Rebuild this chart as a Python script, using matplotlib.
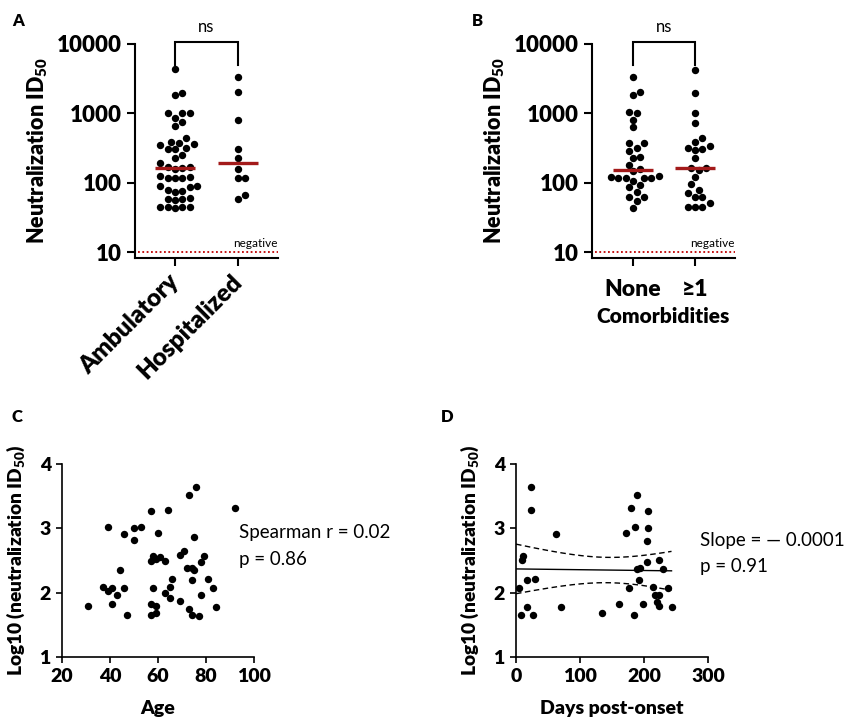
import numpy as np
import matplotlib
matplotlib.use('Agg')
import matplotlib.pyplot as plt

plt.rcParams['font.family'] = ['Lato', 'DejaVu Sans']
plt.rcParams['mathtext.fontset'] = 'custom'
plt.rcParams['mathtext.rm'] = 'Lato'
plt.rcParams['mathtext.bf'] = 'Lato:heavy'

BW = 'heavy'

# ---------------- data ----------------
ambulatory = [4365, 1995, 1820, 1023, 1023, 1000, 851, 759, 646, 447, 380, 372, 363, 347,
              316, 309, 302, 251, 229, 195, 170, 166, 162, 158, 123, 120, 117, 117, 115,
              91, 89, 87, 78, 76, 74, 60, 59, 58, 56, 45, 45, 44, 44, 43]
hospitalized = [3311, 2042, 813, 309, 229, 158, 117, 117, 59, 66]
none_comorb = [3311, 2042, 1862, 1047, 1000, 813, 631, 372, 372, 316, 282, 234, 224, 182,
               158, 145, 115, 115, 115, 115, 120, 126, 107, 93, 87, 74, 63, 63, 54, 43]
ge1_comorb = [4266, 1950, 1023, 724, 437, 380, 339, 316, 302, 295, 224, 162, 162, 151,
              120, 95, 78, 71, 62, 63, 44, 45, 51, 44]
groups_a = ['Ambulatory', 'Hospitalized']
groups_b = ['None', '≥1']

age = [31, 37, 39, 39, 41, 41, 43, 44, 46, 46, 47, 50, 50, 53, 57, 57, 57, 57, 58, 58,
       59, 59, 59, 60, 61, 63, 63, 64, 65, 65, 66, 69, 69, 71, 72, 73, 73, 74, 74, 74,
       75, 75, 76, 77, 78, 78, 79, 81, 83, 84, 92]
age_log = [1.80, 2.09, 3.02, 2.02, 2.07, 1.83, 1.96, 2.36, 2.91, 2.08, 1.65, 3.00, 2.82,
           3.02, 3.27, 2.50, 1.83, 1.66, 2.57, 2.07, 1.79, 1.69, 2.52, 2.93, 2.55, 2.50,
           2.00, 3.29, 2.09, 1.91, 2.21, 1.87, 2.58, 2.65, 2.39, 3.52, 1.74, 2.38, 2.20,
           1.65, 2.35, 2.87, 3.64, 1.64, 2.47, 1.96, 2.57, 2.21, 2.07, 1.77, 3.31]

days = [4, 8, 9, 11, 17, 17, 23, 23, 27, 30, 63, 70, 134, 161, 172, 177, 179, 184, 186,
        189, 189, 192, 193, 199, 205, 207, 207, 205, 214, 217, 220, 223, 223, 224, 230,
        237, 243]
days_log = [2.07, 1.65, 2.51, 2.57, 2.20, 1.77, 3.64, 3.29, 1.65, 2.21, 2.91, 1.78, 1.69,
            1.82, 2.93, 2.07, 3.31, 1.66, 3.02, 3.52, 2.37, 2.19, 2.39, 1.83, 2.47, 3.27,
            3.00, 2.81, 2.09, 1.97, 1.85, 2.51, 1.97, 1.80, 2.37, 2.07, 1.78]

W, H = 849, 720
fig = plt.figure(figsize=(W / 100, H / 100), dpi=100)

def px_axes(l, r, t, b):
    return fig.add_axes([l / W, 1 - b / H, (r - l) / W, (b - t) / H])

RED = '#a31a1a'
DOT_PX = 7.4
DOT_PT = DOT_PX * 72 / 100


def beeswarm(ax, pos, vals):
    fig.canvas.draw()
    vals = np.sort(np.asarray(vals, float))
    ypx = ax.transData.transform(np.column_stack([np.zeros_like(vals), vals]))[:, 1]
    x0 = ax.transData.transform((0, 1))[0]
    x1 = ax.transData.transform((1, 1))[0]
    ppu = x1 - x0
    placed = []
    offs = []
    cands = [0]
    for k in range(1, 12):
        cands += [k * 0.5 * DOT_PX, -k * 0.5 * DOT_PX]
    for y in ypx:
        for c in cands:
            ok = all((c - px) ** 2 + (y - py) ** 2 >= (DOT_PX * 0.97) ** 2 for px, py in placed)
            if ok:
                placed.append((c, y))
                offs.append(c)
                break
    xs = pos + np.array(offs) / ppu
    ax.scatter(xs, vals, s=DOT_PT ** 2, color='black', linewidths=0, zorder=3, clip_on=False)


def cat_panel(ax, g1, g2, names, xlim):
    ax.set_yscale('log')
    ax.set_ylim(8.2, 10000)
    ax.set_xlim(*xlim)
    ax.set_xticks([0, 1])
    ax.set_yticks([10, 100, 1000, 10000])
    ax.set_yticklabels(['10', '100', '1000', '10000'])
    ax.yaxis.set_minor_locator(matplotlib.ticker.NullLocator())
    for s in ['top', 'right']:
        ax.spines[s].set_visible(False)
    for s in ['left', 'bottom']:
        ax.spines[s].set_linewidth(1.5)
    ax.tick_params(axis='both', width=1.5, length=6)
    for lab in ax.get_yticklabels():
        lab.set_fontsize(16)
        lab.set_fontweight(BW)
    ax.set_ylabel('Neutralization ID$_{\\mathbf{50}}$', fontsize=15.5, fontweight=BW, labelpad=5)
    for i, g in enumerate([g1, g2]):
        beeswarm(ax, i, g)
        m = np.median(g)
        ax.plot([i - 0.32, i + 0.32], [m, m], color=RED, lw=2.4, zorder=4, solid_capstyle='butt')
    ax.axhline(10, xmin=0.02, xmax=1.0, color='#c00000', ls=(0, (1, 1.4)), lw=1.3)
    ax.text(xlim[1], 10.9, 'negative', ha='right', va='bottom', fontsize=8.5)
    ax.plot([0, 0, 1, 1], [5000, 10700, 10700, 5000], color='black', lw=1.5,
            clip_on=False, solid_joinstyle='miter')
    ax.text(0.5, 13500, 'ns', ha='center', va='bottom', fontsize=12)


# ---------------- panel A ----------------
axA = px_axes(135, 278, 44, 258)
cat_panel(axA, ambulatory, hospitalized, groups_a, (-0.635, 1.635))
axA.set_xticklabels(groups_a, rotation=45, ha='right', va='center', rotation_mode='anchor',
                    fontsize=17.5, fontweight=BW)
for lab in axA.get_xticklabels():
    lab.set_y(-0.035)

# ---------------- panel B ----------------
axB = px_axes(592, 735, 44, 258)
cat_panel(axB, none_comorb, ge1_comorb, groups_b, (-0.66, 1.645))
axB.set_xticklabels(groups_b, fontsize=16.5, fontweight=BW)
axB.tick_params(axis='x', pad=9)
axB.set_xlabel('Comorbidities', fontsize=15, fontweight=BW, labelpad=5)


def scatter_panel(ax, x, y, xlim, xticks, xlabel):
    ax.set_xlim(*xlim)
    ax.set_ylim(1, 4)
    ax.set_xticks(xticks)
    ax.set_yticks([1, 2, 3, 4])
    for s in ['top', 'right']:
        ax.spines[s].set_visible(False)
    for s in ['left', 'bottom']:
        ax.spines[s].set_linewidth(1.2)
    ax.tick_params(axis='both', width=1.2, length=4.5, labelsize=14)
    for lab in ax.get_xticklabels() + ax.get_yticklabels():
        lab.set_fontweight(BW)
    ax.scatter(x, y, s=DOT_PT ** 2, color='black', linewidths=0, zorder=3, clip_on=False)
    ax.set_xlabel(xlabel, fontsize=14, fontweight=BW, labelpad=11)
    ax.set_ylabel('Log10 (neutralization ID$_{\\mathbf{50}}$)', fontsize=13.8,
                  fontweight=BW, labelpad=9)


# ---------------- panel C ----------------
axC = px_axes(62, 254, 464, 657)
scatter_panel(axC, age, age_log, (20, 100), [20, 40, 60, 80, 100], 'Age')
axC.text(0.92, 2.93, 'Spearman r = 0.02', transform=axC.get_yaxis_transform(),
         ha='left', va='center', fontsize=13.5, clip_on=False)
axC.text(0.92, 2.52, 'p = 0.86', transform=axC.get_yaxis_transform(),
         ha='left', va='center', fontsize=13.5, clip_on=False)

# ---------------- panel D ----------------
axD = px_axes(516, 708, 464, 657)
scatter_panel(axD, days, days_log, (0, 300), [0, 100, 200, 300], 'Days post-onset')
xd = np.asarray(days, float)
yd = np.asarray(days_log, float)
n = len(xd)
slope, icpt = np.polyfit(xd, yd, 1)
xf = np.linspace(0, xd.max(), 200)
yf = icpt + slope * xf
res = yd - (icpt + slope * xd)
s_res = np.sqrt(np.sum(res ** 2) / (n - 2))
se = s_res * np.sqrt(1 / n + (xf - xd.mean()) ** 2 / np.sum((xd - xd.mean()) ** 2))
t_crit = 2.03
axD.plot(xf, yf, color='black', lw=1.0)
axD.plot(xf, yf + t_crit * se, color='black', lw=1.0, ls=(0, (4, 2.5)))
axD.plot(xf, yf - t_crit * se, color='black', lw=1.0, ls=(0, (4, 2.5)))
axD.text(0.96, 2.81, 'Slope = — 0.0001', transform=axD.get_yaxis_transform(),
         ha='left', va='center', fontsize=13.5, clip_on=False)
axD.text(0.96, 2.40, 'p = 0.91', transform=axD.get_yaxis_transform(),
         ha='left', va='center', fontsize=13.5, clip_on=False)

# panel letters
for letter, (x, y) in {'A': (18, 21), 'B': (477, 21), 'C': (17, 417), 'D': (447, 417)}.items():
    fig.text(x / W, 1 - y / H, letter, fontsize=12, fontweight=BW, ha='center', va='center')

fig.savefig('out.png', dpi=100)
